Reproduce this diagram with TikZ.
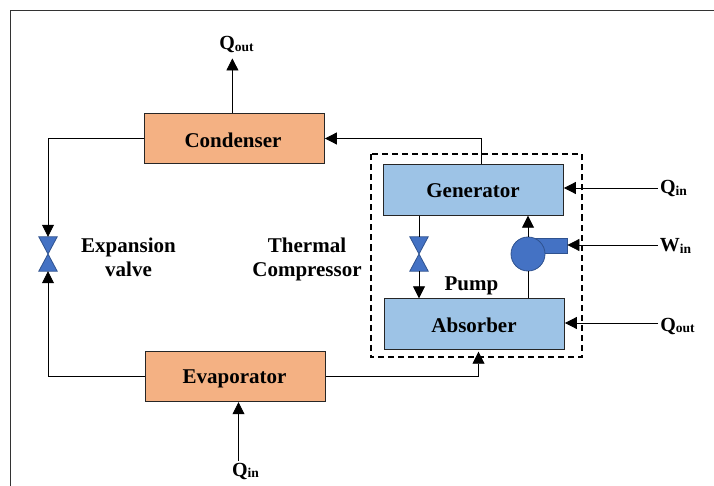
\documentclass[tikz,border=0pt]{standalone}
\usepackage{fontspec}
\setmainfont{Liberation Serif}
\usetikzlibrary{arrows.meta}
\definecolor{hotfill}{HTML}{F4B183}
\definecolor{coldfill}{HTML}{9DC3E6}
\definecolor{partfill}{HTML}{4472C4}
\definecolor{partline}{HTML}{2F528F}
\newcommand\heatlabel[2]{#1\raisebox{-1.5pt}{\fontsize{13.5}{14}\selectfont #2}}
\tikzset{
  unitbox/.style={draw=black!85,line width=0.9pt,minimum width=180.5pt,minimum height=50.5pt,inner sep=0pt},
  textlabel/.style={font=\bfseries\fontsize{21}{24}\selectfont,align=center,inner sep=0pt},
  sidelabel/.style={font=\bfseries\fontsize{20}{22}\selectfont,inner sep=2pt},
  valvebox/.style={minimum width=18pt,minimum height=34pt,inner sep=0pt},
  flow/.style={line width=0.8pt,-{Triangle[width=12pt,length=12pt]}},
  plain/.style={line width=0.8pt},
}
\newcommand\valve[2]{%
\node[valvebox] (#1) at (#2) {};
\draw[partline,fill=partfill,line width=0.8pt] (#1.north west) -- (#1.north east)
 -- (#1.south west) -- (#1.south east) -- cycle;}
\begin{document}
\begin{tikzpicture}[x=1pt,y=-1pt]
\useasboundingbox (0,0) rectangle (714,486);
% frame
\draw[line width=1.6pt,black!80] (10.5,486) -- (10.5,10.5) -- (714,10.5);
% units
\node[unitbox,fill=hotfill] (condenser) at (234.2,138.5) {};
\node[textlabel] at (233,140) {Condenser};
\node[unitbox,fill=hotfill] (evaporator) at (235.2,376.5) {};
\node[textlabel] at (234.5,378.5) {Evaporator};
\node[unitbox,fill=coldfill] (generator) at (473.2,190) {};
\node[textlabel] at (473,191) {Generator};
\node[unitbox,fill=coldfill] (absorber) at (474.2,324) {};
\node[textlabel] at (474,325) {Absorber};
\draw[line width=2pt,dash pattern=on 6pt off 4pt] (370.5,154.5) rectangle (581.5,357);
% valves
\valve{mainvalve}{48,254}
\valve{loopvalve}{419,254}
% pump
\node[draw=partline,fill=partfill,line width=0.8pt,minimum width=39pt,minimum height=15pt,inner sep=0pt] (pumpout) at (547.5,245.5) {};
\node[draw=partline,fill=partfill,line width=0.8pt,circle,minimum size=34pt,inner sep=0pt] (pump) at (528,254) {};
% labels
\node[textlabel] (expansion) at (128.5,257.5) {Expansion\\valve};
\node[textlabel] (thermal) at (307,259.5) {Thermal\\Compressor};
\node[textlabel] (pumplabel) at (471.5,286) {Pump};
\node[sidelabel] (qoutcond) at (236.5,45) {\heatlabel{Q}{out}};
\node[sidelabel] (qinevap) at (245.5,471) {\heatlabel{Q}{in}};
\node[sidelabel] (qingen) at (673.5,189) {\heatlabel{Q}{in}};
\node[sidelabel] (winpump) at (675.5,246) {\heatlabel{W}{in}};
\node[sidelabel] (qoutabs) at (677.5,326) {\heatlabel{Q}{out}};
% connectors
\draw[flow] ([xshift=-1.8pt]condenser.north) -- ([xshift=-1.8pt,yshift=-3pt]condenser.north |- qoutcond.south);
\draw[flow] ([xshift=8.3pt]generator.north) |- (condenser.east);
\draw[flow] (condenser.west) -| (mainvalve.north);
\draw[flow] (evaporator.west) -| (mainvalve.south);
\draw[flow] (evaporator.east) -| ([yshift=-2pt,xshift=4.3pt]absorber.south);
\draw[flow] ([xshift=3.3pt]evaporator.south |- qinevap.north) -- ([xshift=3.3pt]evaporator.south);
\draw[plain] (loopvalve.north |- generator.south) -- (loopvalve.north);
\draw[flow] (loopvalve.south) -- (loopvalve.south |- absorber.north);
\draw[plain] (pump.south |- absorber.north) -- (pump.south);
\draw[flow] (pump.north) -- (pump.north |- generator.south);
\draw[flow] ([yshift=1pt]qingen.west) -- ([yshift=1pt]qingen.west -| generator.east);
\draw[flow] ([yshift=1pt]winpump.west) -- ([yshift=1pt]winpump.west -| pumpout.east);
\draw[flow] ([yshift=3pt]qoutabs.west) -- ([yshift=3pt]qoutabs.west -| absorber.east);
\end{tikzpicture}
\end{document}
